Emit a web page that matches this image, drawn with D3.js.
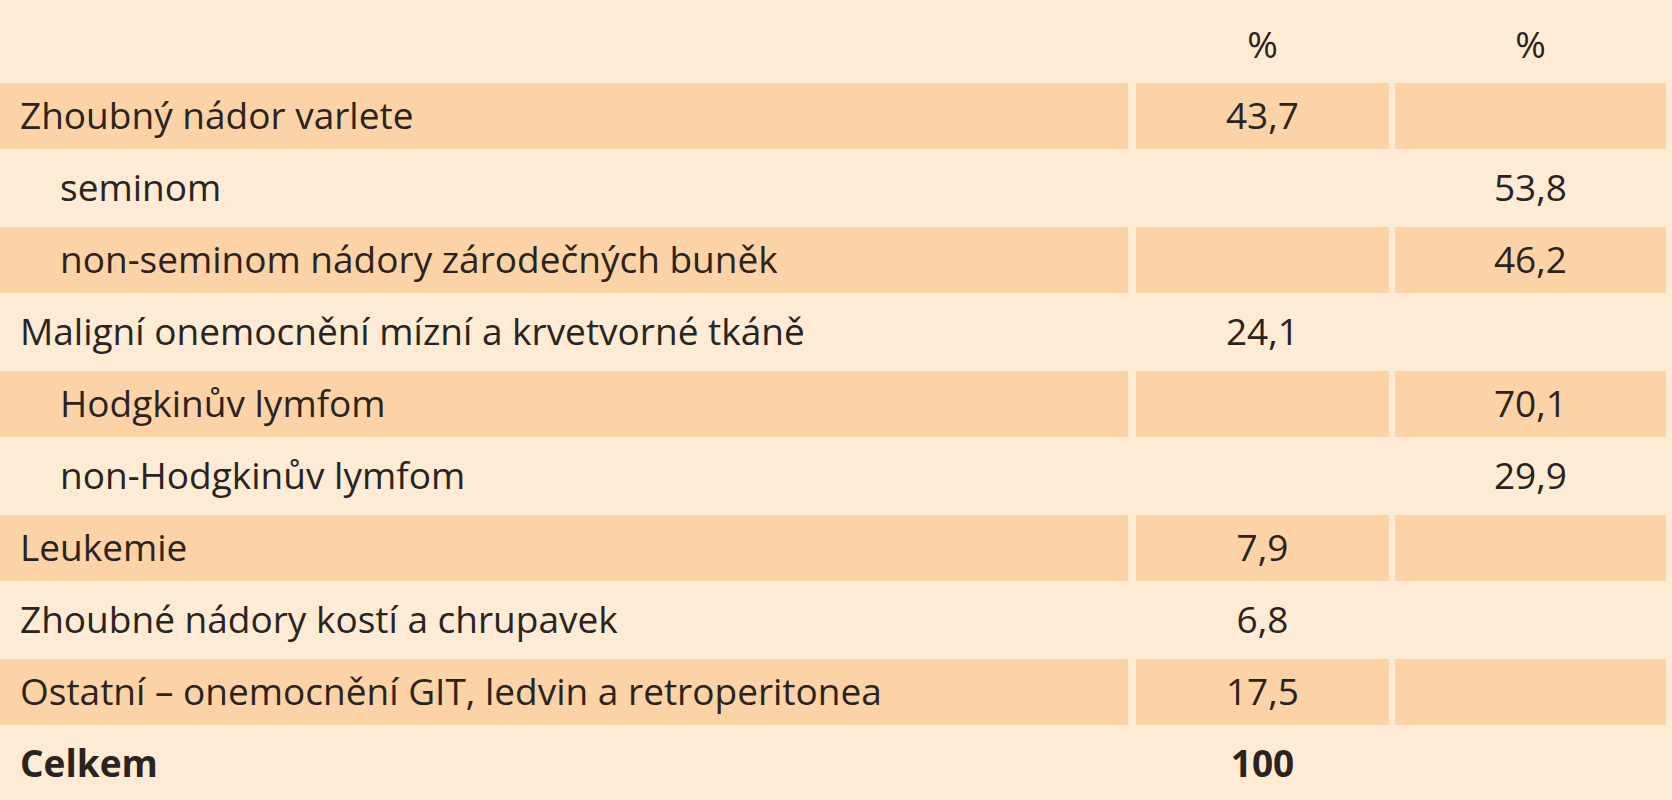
<!DOCTYPE html>
<html><head><meta charset="utf-8">
<script src="https://cdn.jsdelivr.net/npm/d3@7"></script>
<style>body{margin:0;background:#fdebd5}</style>
</head><body>
<svg id="t" width="1672" height="800"></svg>
<script>
const labels = ["Zhoubný nádor varlete","seminom","non-seminom nádory zárodečných buněk",
  "Maligní onemocnění mízní a krvetvorné tkáně","Hodgkinův lymfom","non-Hodgkinův lymfom",
  "Leukemie","Zhoubné nádory kostí a chrupavek","Ostatní – onemocnění GIT, ledvin a retroperitonea","Celkem"];
const indent = [0,1,1,0,1,1,0,0,0,0];
const col1 = ["43,7","","","24,1","","","7,9","6,8","17,5","100"];
const col2 = ["","53,8","46,2","","70,1","29,9","","","",""];
const headers = ["","%","%"];

const svg = d3.select("#t");
const cols = [[0,1128],[1136,1389],[1395,1666]];
const y = d3.scaleBand().domain(d3.range(labels.length)).range([80,800]).paddingInner(0);
const font = "'Open Sans', sans-serif";
const fs = 37;

svg.append("rect").attr("width",1672).attr("height",800).attr("fill","#fdebd5");

headers.forEach((h,i)=>{
  svg.append("text").attr("x",(cols[i][0]+cols[i][1])/2).attr("y",58)
    .attr("text-anchor","middle").attr("font-family",font).attr("font-size",fs).attr("fill","#2b2320").text(h);
});

const rows = svg.selectAll("g.row").data(labels).join("g").attr("class","row")
  .attr("transform",(d,i)=>`translate(0,${y(i)})`);

rows.filter((d,i)=>i%2===0).each(function(){
  const g = d3.select(this);
  cols.forEach(c=>g.append("rect").attr("x",c[0]).attr("y",3).attr("width",c[1]-c[0])
    .attr("height",y.bandwidth()-6).attr("fill","#fcd3a6"));
});

rows.append("text").attr("x",(d,i)=>indent[i]?60:20).attr("y",y.bandwidth()/2+13)
  .attr("font-family",font).attr("font-size",fs).attr("fill","#2b2320")
  .attr("font-weight",(d,i)=>i===labels.length-1?"bold":"normal").text(d=>d);

rows.append("text").attr("x",(cols[1][0]+cols[1][1])/2).attr("y",y.bandwidth()/2+13)
  .attr("text-anchor","middle").attr("font-family",font).attr("font-size",fs).attr("fill","#2b2320")
  .attr("font-weight",(d,i)=>i===labels.length-1?"bold":"normal").text((d,i)=>col1[i]);

rows.append("text").attr("x",(cols[2][0]+cols[2][1])/2).attr("y",y.bandwidth()/2+13)
  .attr("text-anchor","middle").attr("font-family",font).attr("font-size",fs).attr("fill","#2b2320")
  .text((d,i)=>col2[i]);
</script>
</body></html>
